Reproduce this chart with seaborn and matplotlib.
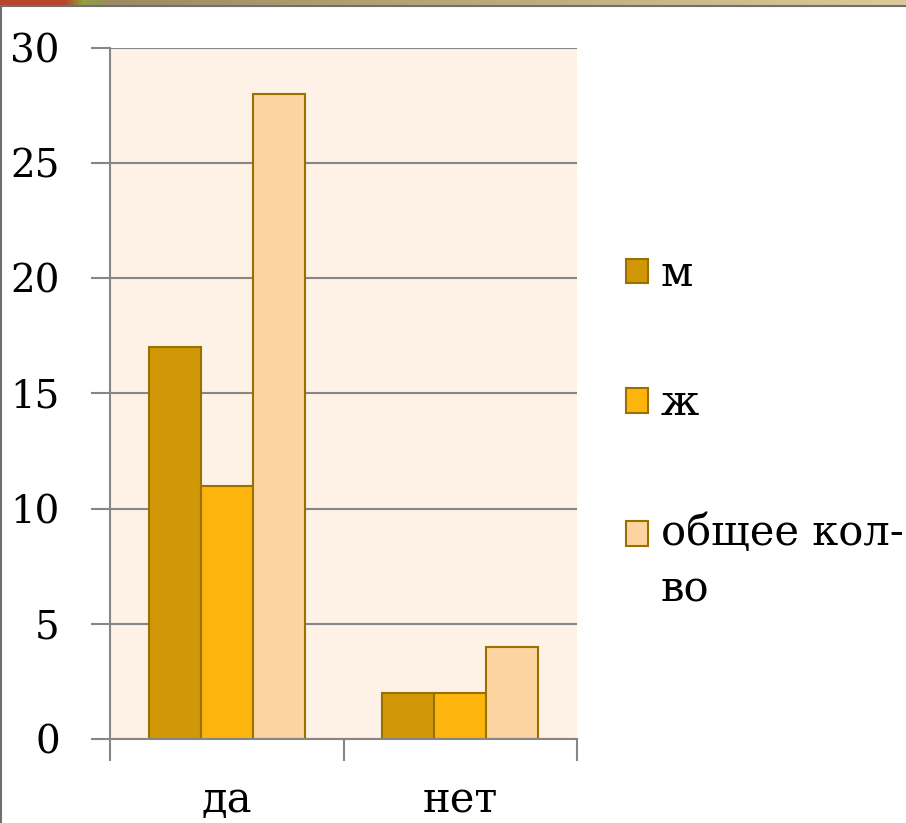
import numpy as np
import pandas as pd
import matplotlib.pyplot as plt
import matplotlib.patches as mpatches
from matplotlib.colors import LinearSegmentedColormap
from matplotlib.legend_handler import HandlerPatch
from matplotlib.lines import Line2D
import seaborn as sns

# данные
categories = ['да', 'нет']
series = ['м', 'ж', 'общее кол-во']
legend_labels = ['м', 'ж', 'общее кол-\nво']
m_values = [17, 2]
zh_values = [11, 2]
total_values = [28, 4]
yticks = [0, 5, 10, 15, 20, 25, 30]

colors = ['#D09806', '#FDB40D', '#FDD4A0']
edge = '#9A7000'
grid_c = '#868686'
FS = 30

df = pd.DataFrame({
    'cat': categories * 3,
    'series': [series[0]] * 2 + [series[1]] * 2 + [series[2]] * 2,
    'value': m_values + zh_values + total_values,
})

sns.set_style('white')
plt.rcParams['font.family'] = ['DejaVu Serif', 'Liberation Serif']
plt.rcParams['text.color'] = 'black'
plt.rcParams['xtick.labelcolor'] = 'black'
plt.rcParams['ytick.labelcolor'] = 'black'

fig = plt.figure(figsize=(9.06, 8.23), dpi=100)
ax = fig.add_axes([0.1214, 0.1021, 0.5155, 0.8396])

sns.barplot(data=df, x='cat', y='value', hue='series', palette=colors,
            width=0.667, gap=0, edgecolor=edge, linewidth=1.5, ax=ax,
            saturation=1, legend=False)

ax.set_facecolor('#FEF1E6')
ax.set_xlim(-0.5, 1.5)
ax.set_ylim(0, 30)
ax.set_yticks(yticks)
ax.yaxis.grid(True, color=grid_c, linewidth=1.5)
ax.set_axisbelow(True)
ax.tick_params(axis='y', length=14, width=1.5, color=grid_c, pad=22, labelsize=28, left=True)
ax.tick_params(axis='x', which='major', length=0, pad=29, labelsize=FS)
ax.set_xticks([-0.5, 0.5, 1.5], minor=True)
ax.tick_params(axis='x', which='minor', length=16, width=1.5, color=grid_c, bottom=True)
ax.set_xlabel('')
ax.set_ylabel('')
for s in ['top', 'right']:
    ax.spines[s].set_visible(False)
for s in ['left', 'bottom']:
    ax.spines[s].set_color(grid_c)
    ax.spines[s].set_linewidth(1.5)


# маркер легенды выровнен по первой строке подписи
def square(legend, orig_handle, xdescent, ydescent, width, height, fontsize):
    nlines = orig_handle.get_label().count('\n')
    shift = nlines * 0.7 * fontsize
    return mpatches.Rectangle((-xdescent, -ydescent + shift), width, height)


handles = [mpatches.Patch(facecolor=c, edgecolor=edge, linewidth=1.5, label=l)
           for c, l in zip(colors, legend_labels)]
leg = ax.legend(handles, legend_labels, loc='center left', bbox_to_anchor=(1.025, 0.445),
                frameon=False, fontsize=FS, handlelength=0.53, handleheight=0.53,
                handletextpad=0.3, labelspacing=2.1,
                handler_map={mpatches.Patch: HandlerPatch(patch_func=square)})
for t in leg.get_texts():
    t.set_linespacing(1.45)

# верхняя полоса и рамка слайда
strip = fig.add_axes([0, 1 - 5 / 823, 1, 5 / 823])
grad = np.linspace(0, 1, 512).reshape(1, -1)
strip_cmap = LinearSegmentedColormap.from_list(
    'strip', [(0, '#B8452A'), (0.07, '#B8452A'), (0.09, '#8DA040'), (0.12, '#9E8A62'), (1, '#DCCB98')])
strip.imshow(grad, aspect='auto', cmap=strip_cmap)
strip.axis('off')
fig.lines.append(Line2D([0, 1], [1 - 6 / 823, 1 - 6 / 823], transform=fig.transFigure,
                        color='#707070', linewidth=1.5))
fig.lines.append(Line2D([0.001, 0.001], [0, 1 - 6 / 823], transform=fig.transFigure,
                        color='#707070', linewidth=1.5))

fig.savefig('out.png', dpi=100)
